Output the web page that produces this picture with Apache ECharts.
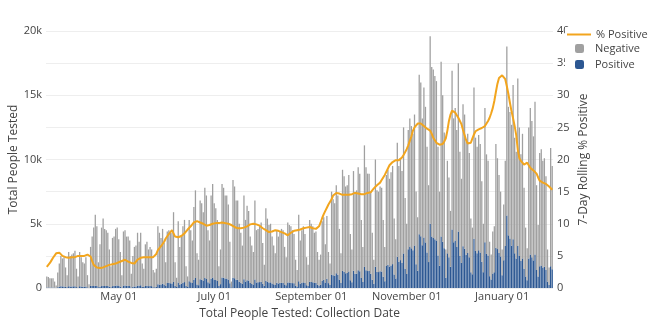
<!DOCTYPE html>
<html>
<head>
<meta charset="utf-8">
<script src="https://cdn.jsdelivr.net/npm/echarts@6/dist/echarts.min.js"></script>
<style>html,body{margin:0;padding:0;background:#fff}#c{width:656px;height:324px}</style>
</head>
<body>
<div id="c"></div>
<script>
const startDate = '2020-03-16';
const tickDates = ['2020-05-01','2020-07-01','2020-09-01','2020-11-01','2021-01-01'];
const tickLabels = ['May 01','July 01','September 01','November 01','January 01'];

const positive = [
30,35,30,35,40,25,10,
60,100,130,125,120,90,50,
135,120,125,130,140,70,45,
140,120,100,95,125,50,15,
160,150,150,170,150,60,105,
150,175,150,155,150,105,60,
145,155,180,190,155,115,40,
190,190,170,160,150,45,100,
120,125,190,170,205,90,70,
160,175,145,155,145,65,60,
90,290,270,265,340,265,160,
380,400,370,350,470,160,70,
430,270,330,410,460,150,80,
520,450,380,650,780,280,220,
680,650,580,770,700,440,370,
720,820,660,620,540,170,300,
810,790,730,740,660,360,50,
800,760,650,650,480,410,320,
680,500,610,580,390,320,270,
660,430,450,460,490,340,170,
550,480,430,440,350,290,240,
400,350,390,400,390,280,210,
430,420,410,380,360,190,120,
520,340,410,440,390,220,170,
490,470,450,400,410,260,200,
250,540,640,420,720,380,250,
1050,990,950,1150,1030,660,390,
1330,1260,1150,1160,1280,610,440,
1340,1100,1120,1380,1310,780,470,
1640,1390,1320,1320,1110,640,330,
1650,1250,1240,1300,1290,870,530,
1720,1800,1670,1760,1860,1060,740,
2430,2040,2170,1960,2690,1500,1080,
3010,3230,3090,2940,3310,1840,1350,
4180,4030,3330,3930,3550,2770,2020,
5000,4000,3900,3800,3700,2530,1730,
4000,3600,3100,800,2700,2400,1650,
4560,3560,3700,3200,4400,2500,1950,
3250,3060,2590,2730,2390,1230,1070,
3840,2880,2710,2930,2760,2040,1230,
3570,2650,2520,920,660,1120,1220,
3140,3030,2730,2460,1000,2150,3270,
5640,4100,3850,3300,3800,2700,2300,
3260,2500,2100,2300,1500,900,600,
2300,2600,2400,2150,2600,1400,900,
1700,1750,1600,1650,1400,500,260,
1700,1450
];

const negative = [
870,815,720,715,710,475,190,
1140,1800,2370,2175,2280,1510,950,
2665,2380,2475,2570,2760,1430,855,
2660,2280,1900,1805,2275,950,285,
3040,3850,4550,5530,4650,1940,3295,
4550,5225,4450,4345,4150,2895,1640,
3755,3845,4420,4510,3645,2685,960,
4210,4310,3830,3840,3550,1055,2400,
3080,3175,4110,3430,4095,1810,1430,
3240,3425,2855,3045,2855,1335,1140,
1410,4510,4030,3635,4260,3235,1840,
4020,4100,4030,3950,5430,1840,730,
4770,2930,3670,4390,4840,1550,820,
4780,4050,3320,5650,6820,2420,1980,
6120,5950,5320,7030,6500,4060,3330,
6480,7280,5940,5580,4760,1530,2700,
7290,7010,6470,6460,5840,3240,450,
7600,7140,6150,6150,4520,3890,2980,
6520,4800,5790,5420,3610,2980,2530,
6140,4070,4150,4340,4610,3160,1630,
5650,4920,4470,4560,3650,3010,2460,
4100,3650,4010,4200,4110,2920,2190,
4670,4480,4390,4120,3840,2010,1280,
5180,3360,4090,4360,3810,2180,1630,
4810,4530,4350,3900,3990,2540,2000,
2350,4660,4860,2980,4880,2420,1650,
6450,5910,5650,6850,6170,3940,2310,
7870,7440,6750,6840,7520,3590,2560,
7760,6400,6480,8020,7590,4520,2730,
9460,8010,7580,7580,6390,3660,1870,
8350,6350,6260,6600,6510,4430,2670,
7080,7400,6830,7240,7640,4340,3060,
8870,7460,7930,7140,9810,5500,3920,
9290,9970,9510,9060,10190,5660,4150,
12420,11970,9870,11670,10550,8230,5980,
14600,13200,13100,12700,12400,8470,5770,
13600,11400,9000,2200,7200,6200,4350,
12340,9640,10300,9100,13100,8100,6550,
11050,10440,8810,9270,8110,4170,3630,
11760,8820,8290,8970,8440,6260,3770,
10430,7750,7380,2680,1940,3280,3580,
8060,7070,6070,5040,2000,4350,6630,
13160,10000,9850,9400,12000,9000,8300,
13040,10000,8300,9700,6300,3800,2500,
10200,11400,10600,9650,11900,6600,4000,
8800,9050,8300,8450,7300,2500,1340,
9200,8050
];

const rollingPct = [
3.3,3.6,3.9,4.3,4.7,5.0,5.4,5.6,5.5,5.2,
5.0,4.9,4.8,4.8,4.7,4.8,4.8,4.7,4.8,4.9,
5.0,4.9,5.0,5.0,5.0,5.1,5.2,5.3,4.9,4.2,
3.6,3.3,3.2,3.1,3.1,3.2,3.2,3.3,3.4,3.5,
3.6,3.6,3.7,3.7,3.8,3.9,4.0,4.1,4.2,4.3,
4.4,4.3,4.1,4.0,3.9,3.7,3.8,4.1,4.4,4.7,
4.7,4.8,4.8,4.8,4.8,4.8,4.8,4.8,4.8,4.8,
5.3,5.9,6.2,6.5,6.7,7.2,7.7,8.0,8.4,8.7,
9.0,8.5,8.0,7.9,7.9,8.0,8.1,8.2,8.5,8.8,
9.1,9.3,9.6,9.9,10.2,10.4,10.4,10.3,10.2,10.1,
10.0,9.8,9.7,9.6,9.8,9.9,10.0,10.1,10.1,10.1,
10.1,10.1,10.2,10.2,10.1,10.1,10.0,9.9,9.8,9.7,
9.5,9.4,9.3,9.3,9.3,9.3,9.4,9.5,9.6,9.7,
9.9,10.0,10.0,9.9,9.9,9.8,9.7,9.5,9.3,9.1,
9.0,8.8,8.7,8.7,8.8,8.9,9.0,9.0,8.9,8.8,
8.7,8.7,8.5,8.3,8.2,8.4,8.6,8.8,8.9,9.0,
9.0,9.1,9.1,9.2,9.3,9.4,9.4,9.5,9.5,9.4,
9.3,9.2,9.2,9.3,9.6,10.2,10.9,11.5,12.0,12.5,
13.0,13.3,13.8,14.4,14.7,14.8,14.8,14.7,14.6,14.5,
14.4,14.5,14.5,14.5,14.6,14.6,14.7,14.8,14.8,14.7,
14.7,14.6,14.6,14.6,14.7,14.8,14.9,14.9,15.2,15.5,
15.8,16.0,16.2,16.4,16.8,17.2,17.6,18.1,18.6,19.1,
19.4,19.6,19.8,19.9,19.9,19.9,20.0,20.3,20.7,21.0,
21.6,22.2,22.9,23.6,24.5,25.0,25.3,25.6,25.7,25.6,
25.4,25.2,24.9,24.8,24.7,24.5,24.0,23.4,23.0,22.6,
22.4,22.3,22.3,22.4,22.8,23.3,24.5,26.0,27.0,27.6,
27.6,27.3,26.9,26.5,26.2,25.5,24.6,23.8,23.0,22.5,
22.3,22.6,23.3,23.9,24.4,24.6,24.7,24.8,24.9,24.9,
25.2,25.6,26.0,26.5,27.2,28.0,29.1,30.5,31.8,32.7,
33.0,33.1,33.0,32.5,31.4,30.2,28.8,27.5,26.4,25.2,
23.8,21.5,20.2,19.8,19.5,19.2,19.3,19.5,19.2,18.7,
18.5,18.3,18.2,17.8,17.2,16.7,16.5,16.4,16.3,16.2,
16.0,15.8,15.5,15.3
];

// consecutive collection dates (category labels)
const dates = [];
{
  const d0 = new Date(startDate + 'T00:00:00Z');
  for (let i = 0; i < positive.length; i++) {
    const d = new Date(d0.getTime() + i * 86400000);
    dates.push(d.toISOString().slice(0, 10));
  }
}

const FONT = '"Open Sans", sans-serif';
const TXT = '#444';
const chart = echarts.init(document.getElementById('c'), null, {renderer: 'canvas'});
chart.setOption({
  animation: false,
  textStyle: {fontFamily: FONT},
  grid: {left: 46, right: 103, top: 31, bottom: 36, containLabel: false, outerBoundsMode: 'none'},
  legend: [
    {
      data: [{name: '% Positive', icon: 'rect'}], left: 565, top: 27, orient: 'vertical',
      itemWidth: 24, itemHeight: 2, padding: [2, 12, 2, 2],
      backgroundColor: '#fff',
      textStyle: {fontFamily: FONT, fontSize: 11, color: TXT}
    },
    {
      data: ['Negative', 'Positive'], left: 565, top: 41, orient: 'vertical',
      itemWidth: 9, itemHeight: 9, itemGap: 5, padding: [2, 12, 2, 10],
      backgroundColor: '#fff',
      textStyle: {fontFamily: FONT, fontSize: 11, color: TXT, padding: [0, 0, 0, 6]}
    }
  ],
  xAxis: {
    type: 'category', data: dates, boundaryGap: true,
    axisLine: {show: false}, axisTick: {show: false},
    axisLabel: {
      interval: (idx, val) => tickDates.indexOf(val) >= 0,
      formatter: v => tickLabels[tickDates.indexOf(v)],
      color: TXT, fontSize: 11, fontFamily: FONT, margin: 3
    },
    name: 'Total People Tested: Collection Date', nameLocation: 'middle', nameGap: 20,
    nameMoveOverlap: false,
    nameTextStyle: {color: TXT, fontSize: 12, fontFamily: FONT}
  },
  yAxis: [
    {
      type: 'value', min: 0, max: 20000, interval: 5000, position: 'left',
      axisLine: {show: false}, axisTick: {show: false},
      splitLine: {lineStyle: {color: '#eee', width: 1}},
      axisLabel: {formatter: v => v === 0 ? '0' : (v / 1000) + 'k', color: TXT, fontSize: 11, margin: 4, fontFamily: FONT},
      name: 'Total People Tested', nameLocation: 'middle', nameGap: 26, nameRotate: 90,
      nameMoveOverlap: false,
      nameTextStyle: {color: TXT, fontSize: 12, fontFamily: FONT}
    },
    {
      type: 'value', min: 0, max: 40, interval: 5, position: 'right',
      axisLine: {show: false}, axisTick: {show: false},
      splitLine: {lineStyle: {color: '#eee', width: 1}},
      axisLabel: {color: TXT, fontSize: 11, margin: 4, fontFamily: FONT},
      name: '7-Day Rolling % Positive', nameLocation: 'middle', nameGap: 25, nameRotate: 90,
      nameMoveOverlap: false,
      nameTextStyle: {color: TXT, fontSize: 12, fontFamily: FONT}
    }
  ],
  series: [
    {
      name: 'Positive', type: 'bar', stack: 'tests', data: positive,
      itemStyle: {color: '#2c5792'}, barCategoryGap: '18%', z: 2
    },
    {
      name: 'Negative', type: 'bar', stack: 'tests', data: negative,
      itemStyle: {color: '#a0a0a0'}, barCategoryGap: '18%', z: 2
    },
    {
      name: '% Positive', type: 'line', yAxisIndex: 1, data: rollingPct,
      symbol: 'none', lineStyle: {color: '#f2a51e', width: 2}, itemStyle: {color: '#f2a51e'}, z: 5
    }
  ]
});
</script>
</body>
</html>
